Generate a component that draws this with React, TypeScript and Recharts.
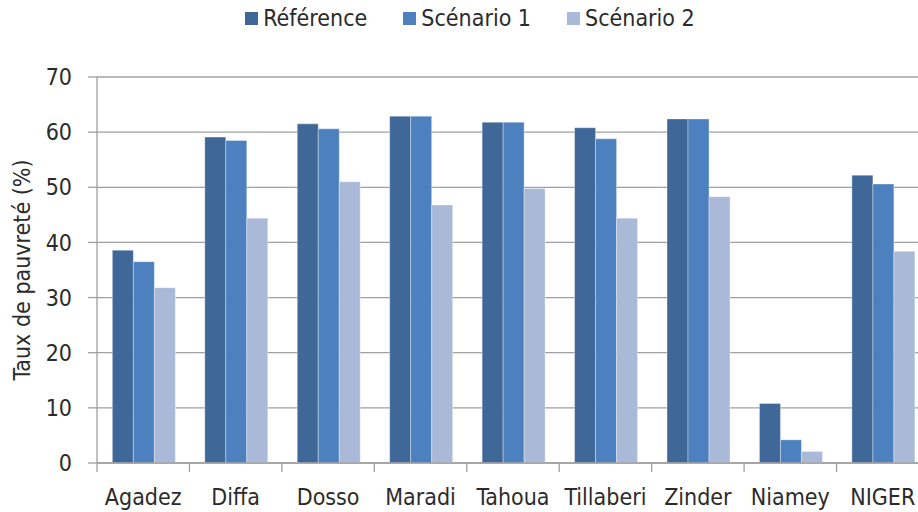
import { Bar, BarChart, CartesianGrid, Legend, XAxis, YAxis } from 'recharts';

const categories = ['Agadez', 'Diffa', 'Dosso', 'Maradi', 'Tahoua', 'Tillaberi', 'Zinder', 'Niamey', 'NIGER'];
const reference = [38.6, 59.1, 61.5, 62.9, 61.8, 60.8, 62.4, 10.8, 52.2];
const scenario1 = [36.5, 58.5, 60.6, 62.9, 61.8, 58.8, 62.4, 4.2, 50.6];
const scenario2 = [31.8, 44.4, 51.0, 46.8, 49.8, 44.4, 48.3, 2.1, 38.4];
const yTicks = [0, 10, 20, 30, 40, 50, 60, 70];

// note: don't use "ref" as a data key, recharts spreads entries onto the bar shapes
const SERIES = [
    { key: 'base', name: 'Référence', color: '#3F6899' },
    { key: 'scen1', name: 'Scénario 1', color: '#4D80BE' },
    { key: 'scen2', name: 'Scénario 2', color: '#AAB9D7' },
];

const FONT = '"DejaVu Sans Condensed", "DejaVu Sans", sans-serif';
const TEXT = '#2b2b2b';
const CHART_W = 940;
const CHART_H = 512;
const MARGIN = { top: 77, right: 11, bottom: 0, left: 0 };
const Y_W = 97;
const BAND = (CHART_W - MARGIN.left - MARGIN.right - Y_W) / categories.length;

const data = categories.map((name, i) => ({
    name,
    base: reference[i],
    scen1: scenario1[i],
    scen2: scenario2[i],
}));

function CategoryTick(props: any) {
    const { x, y, payload } = props;
    // ticks sit on category boundaries, labels in the middle
    const bx = x - BAND / 2;
    return (
        <g>
            <line x1={bx} y1={y - 8} x2={bx} y2={y + 1} stroke="#a0a0a0" strokeWidth={1.3} />
            <text x={x} y={y + 34} textAnchor="middle" fill={TEXT} fontSize={23} fontFamily={FONT}>
                {payload.value}
            </text>
        </g>
    );
}

function LegendContent() {
    return (
        <div style={{ display: 'flex', justifyContent: 'center', gap: 36, fontFamily: FONT, fontSize: 23, color: TEXT }}>
            {SERIES.map(s => (
                <div key={s.key} style={{ display: 'flex', alignItems: 'center' }}>
                    <span style={{ width: 13, height: 13, background: s.color, marginRight: 5, display: 'inline-block' }} />
                    <span>{s.name}</span>
                </div>
            ))}
        </div>
    );
}

export default function App() {
    return (
        <div style={{ position: 'absolute', left: 0, top: 0, width: 918, height: 512, overflow: 'hidden', background: '#fff' }}>
            <BarChart width={CHART_W} height={CHART_H} data={data} margin={MARGIN} barCategoryGap="16.6%" barGap={0}>
                <CartesianGrid vertical={false} stroke="#a0a0a0" strokeWidth={1.3} />
                <XAxis
                    dataKey="name"
                    height={CHART_H - 463}
                    axisLine={{ stroke: '#a0a0a0', strokeWidth: 1.3 }}
                    tickLine={false}
                    tickSize={8}
                    tickMargin={0}
                    interval={0}
                    tick={<CategoryTick />}
                />
                <YAxis
                    width={Y_W}
                    domain={[0, 70]}
                    ticks={yTicks}
                    interval={0}
                    axisLine={{ stroke: '#a0a0a0', strokeWidth: 1.3 }}
                    tickLine={{ stroke: '#a0a0a0', strokeWidth: 1.3 }}
                    tickSize={9}
                    tickMargin={16}
                    tick={{ fill: TEXT, fontSize: 23, fontFamily: FONT }}
                    label={{
                        value: 'Taux de pauvreté (%)',
                        angle: -90,
                        position: 'insideLeft',
                        offset: 22,
                        style: { textAnchor: 'middle', fill: TEXT, fontSize: 23, fontFamily: FONT },
                    }}
                />
                <Legend verticalAlign="middle" wrapperStyle={{ top: 5, left: 0, width: CHART_W }} content={<LegendContent />} />
                {SERIES.map(s => (
                    <Bar key={s.key} dataKey={s.key} name={s.name} fill={s.color} stroke="#ffffff" strokeOpacity={0.35} strokeWidth={1} isAnimationActive={false} />
                ))}
            </BarChart>
        </div>
    );
}
